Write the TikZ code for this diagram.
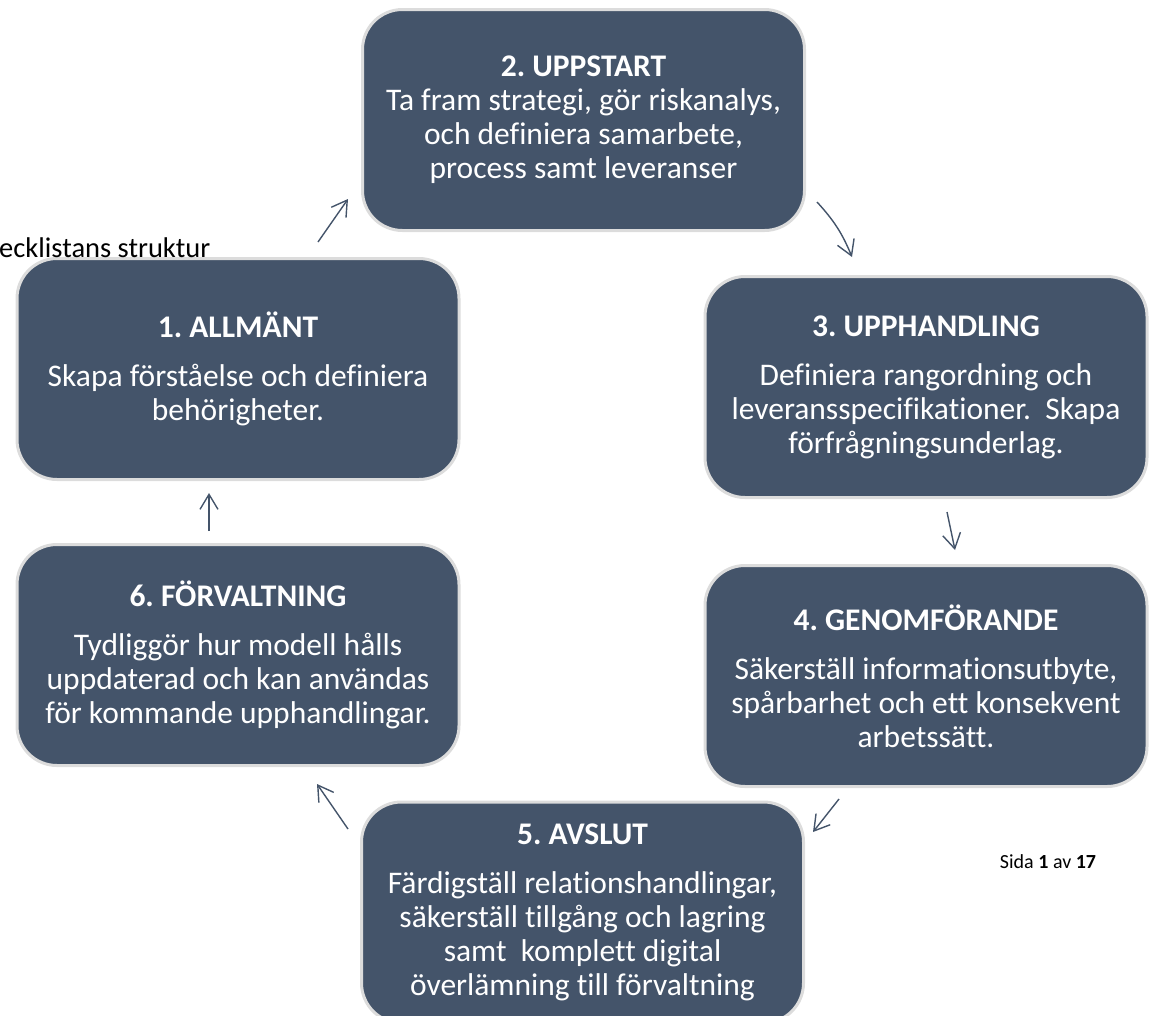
\documentclass[tikz,border=0pt]{standalone}
\usepackage{fontspec}
\setmainfont{Carlito}[RawFeature={-liga;-clig;-dlig;-calt}]
\usetikzlibrary{arrows.meta}
\definecolor{boxfill}{HTML}{44546A}
\definecolor{boxline}{HTML}{DCDCDC}
\tikzset{
  phase/.style={rectangle, rounded corners=40pt, fill=boxfill, draw=boxline, line width=3pt,
    minimum width=442pt, minimum height=221pt, inner sep=0pt, text=white, align=center,
    font=\fontsize{31.5}{34}\selectfont\frenchspacing},
  flow/.style={draw=boxfill, line width=1.4pt, -{Straight Barb[length=15pt,width=18pt,line width=1.4pt]}}
}
\begin{document}
\frenchspacing
\begin{tikzpicture}[x=1pt,y=-1pt]
\useasboundingbox (0,0) rectangle (1150,1015);

\node[phase] (b2) at (583.5,120) {{\bfseries 2. UPPSTART}\\Ta fram strategi, gör riskanalys,\\och definiera samarbete,\\process samt leveranser};
\node[phase] (b3) at (926,387) {{\bfseries 3. UPPHANDLING}\\[15pt]Definiera rangordning och\\leveransspecifikationer.\ \ Skapa\\förfrågningsunderlag.};
\node[phase] (b1) at (238,369) {{\bfseries 1. ALLMÄNT}\\[15pt]Skapa förståelse och definiera\\behörigheter.};
\node[phase] (b6) at (238,655) {{\bfseries 6. FÖRVALTNING}\\[15pt]Tydliggör hur modell hålls\\uppdaterad och kan användas\\för kommande upphandlingar.};
\node[phase] (b4) at (926,676) {{\bfseries 4. GENOMFÖRANDE}\\[15pt]Säkerställ informationsutbyte,\\spårbarhet och ett konsekvent\\arbetssätt.};
\node[phase] (b5) at (582.5,912.5) {{\bfseries 5. AVSLUT}\\[15pt]Färdigställ relationshandlingar,\\säkerställ tillgång och lagring\\samt\ \ komplett digital\\överlämning till förvaltning};

\node[anchor=base west, inner sep=0pt, font=\fontsize{28.5}{34}\selectfont] (title) at (-1,257) {ecklistans struktur};
\node[anchor=center, inner sep=0pt, font=\fontsize{20}{24}\selectfont] (page) at (1048,862) {Sida \textbf{1} av \textbf{17}};

\coordinate (s12) at (318,242); \coordinate (e12) at (348,199);
\coordinate (s23) at (817,202); \coordinate (e23) at (852,257);
\coordinate (s34) at (947,512); \coordinate (e34) at (955,550);
\coordinate (s45) at (839,799); \coordinate (e45) at (813,832);
\coordinate (s56) at (348,829); \coordinate (e56) at (317,784);
\coordinate (s61) at (209,531); \coordinate (e61) at (209,493);

\draw[flow] (s12) -- (e12);
\draw[flow] (s23) to[bend left=10] (e23);
\draw[flow] (s34) -- (e34);
\draw[flow] (s45) -- (e45);
\draw[flow] (s56) -- (e56);
\draw[flow] (s61) -- (e61);
\end{tikzpicture}
\end{document}
